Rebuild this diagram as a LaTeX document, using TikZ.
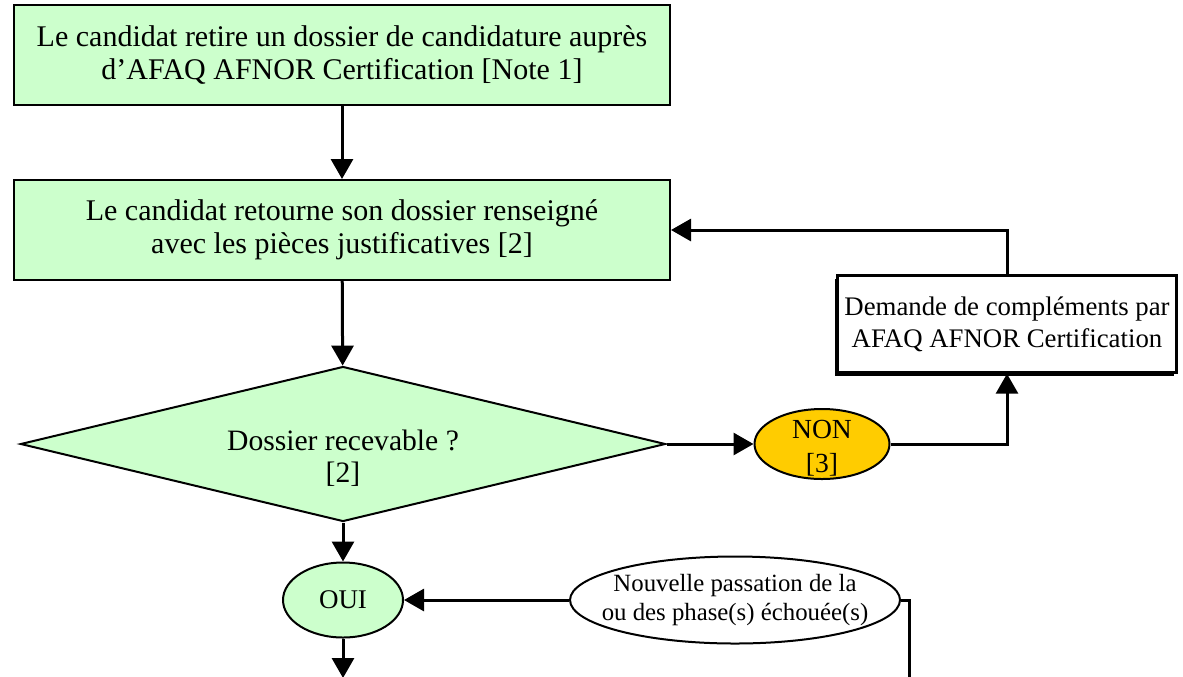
\documentclass[tikz,border=0pt]{standalone}
\usepackage{fontspec}
\setmainfont{Liberation Serif}
\usetikzlibrary{shapes.geometric,arrows.meta}
\definecolor{vertclair}{RGB}{204,255,204}
\definecolor{orangenon}{RGB}{255,204,0}
\tikzset{every picture/.style={line width=0.5pt}}
\tikzset{
  etape/.style={draw, fill=vertclair, line width=1pt, minimum width=328pt, minimum height=50pt, inner sep=0pt, align=center, font=\fontsize{15}{16.5}\selectfont},
  losange/.style={draw, fill=vertclair, diamond, line width=1pt, minimum width=322.5pt, minimum height=77.5pt, inner sep=0pt},
  ovale/.style={draw, ellipse, line width=1pt, inner sep=0pt},
  fleche/.style={line width=1.5pt, -{Triangle[length=10pt,width=11pt]}},
  trait/.style={line width=1.5pt},
}

\begin{document}
\begin{tikzpicture}[x=0.5pt,y=0.5pt,yscale=-1,xscale=1]
\useasboundingbox (0,0) rectangle (1183,676);
%Shape: Rectangle
\node [etape] (retrait) at (342,55) {Le candidat retire un dossier de candidature auprès\\d’AFAQ AFNOR Certification [Note 1]};
%Shape: Rectangle
\node [etape] (retour) at (342,230) {Le candidat retourne son dossier renseigné\\avec les pièces justificatives [2]};
%Shape: Diamond
\node [losange, label={[align=center, font=\fontsize{14.8}{16}\selectfont, yshift=-7pt]center:Dossier recevable ?\\{[2]}}] (recev) at (343,444) {};
%Shape: Ellipse
\node [ovale, fill=orangenon, minimum width=67.5pt, minimum height=35pt, label={[align=center, font=\fontsize{13.8}{17}\selectfont, yshift=-2pt]center:NON\\{[3]}}] (non) at (822,444) {};
%Shape: Rectangle (with shadow)
\node [draw, line width=1.2pt, fill=white, preaction={fill=black, transform canvas={xshift=-1.5pt, yshift=-1.5pt}}, minimum width=169.5pt, minimum height=48.5pt, inner sep=0pt, align=center, font=\fontsize{13.4}{16}\selectfont] (compl) at (1007,324) {Demande de compléments par\\AFAQ AFNOR Certification};
%Shape: Ellipse
\node [ovale, fill=vertclair, minimum width=60pt, minimum height=37.5pt, label={[font=\fontsize{13.5}{16}\selectfont]center:OUI}] (oui) at (343,600) {};
%Shape: Ellipse
\node [ovale, fill=white, minimum width=165pt, minimum height=43.5pt, label={[align=center, font=\fontsize{12.4}{14.5}\selectfont]center:Nouvelle passation de la\\ou des phase(s) échouée(s)}] (nouv) at (735,600) {};
% Free ends
\coordinate (basoui) at (343,678);
\coordinate (basnouv) at (909,700);

%Straight Lines
\draw [fleche] (retrait) -- (retour);
\draw [fleche] (retour) -- (recev);
\draw [fleche] (recev.east) -- (non.west);
\draw [fleche] (non.east) -| (compl.south);
\draw [fleche] (compl.north) |- (retour.east);
\draw [fleche] (recev.south) -- (oui.north);
\draw [fleche] (nouv.west) -- (oui.east);
\draw [fleche] (oui.south) -- (basoui);
\draw [trait] (nouv.east) -| (basnouv);
\end{tikzpicture}
\end{document}
